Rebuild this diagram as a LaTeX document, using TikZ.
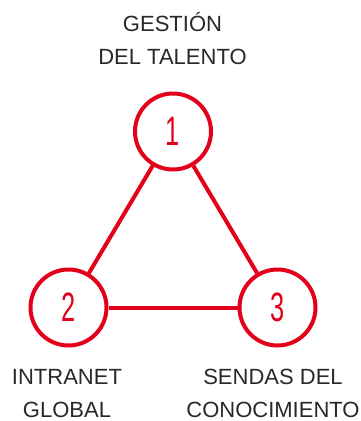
\documentclass[tikz,border=0pt]{standalone}
\usepackage{fontspec}
\setmainfont{Liberation Sans}
\newfontfamily\numfont[FakeStretch=0.62]{Liberation Sans}
\definecolor{tred}{RGB}{226,0,26}
\definecolor{tgray}{RGB}{40,40,40}
\begin{document}
\begin{tikzpicture}[x=1pt,y=-1pt,
  ring/.style={circle,draw=tred,line width=4pt,minimum size=76pt,inner sep=0pt,fill=white,text=tred,font=\numfont\fontsize{41}{41}\selectfont},
  link/.style={draw=tred,line width=4pt},
  lbl/.style={text=tgray,align=center,anchor=base,inner sep=0pt,font=\fontsize{22}{33.5}\selectfont}]
\useasboundingbox (0,0) rectangle (360,421);
\node[ring] (n1) at (173,131.5) {1};
\node[ring] (n2) at (68.5,307.5) {2};
\node[ring] (n3) at (277.5,307.5) {3};
\draw[link] (n1) -- (n2);
\draw[link] (n1) -- (n3);
\draw[link] (n2) -- (n3);
\node[lbl] (t1) at (172.5,64.5) {GESTIÓN\\DEL TALENTO};
\node[lbl] (t2) at (67,417.5) {INTRANET\\GLOBAL};
\node[lbl] (t3) at (273,417.5) {SENDAS DEL\\CONOCIMIENTO};
\end{tikzpicture}
\end{document}
